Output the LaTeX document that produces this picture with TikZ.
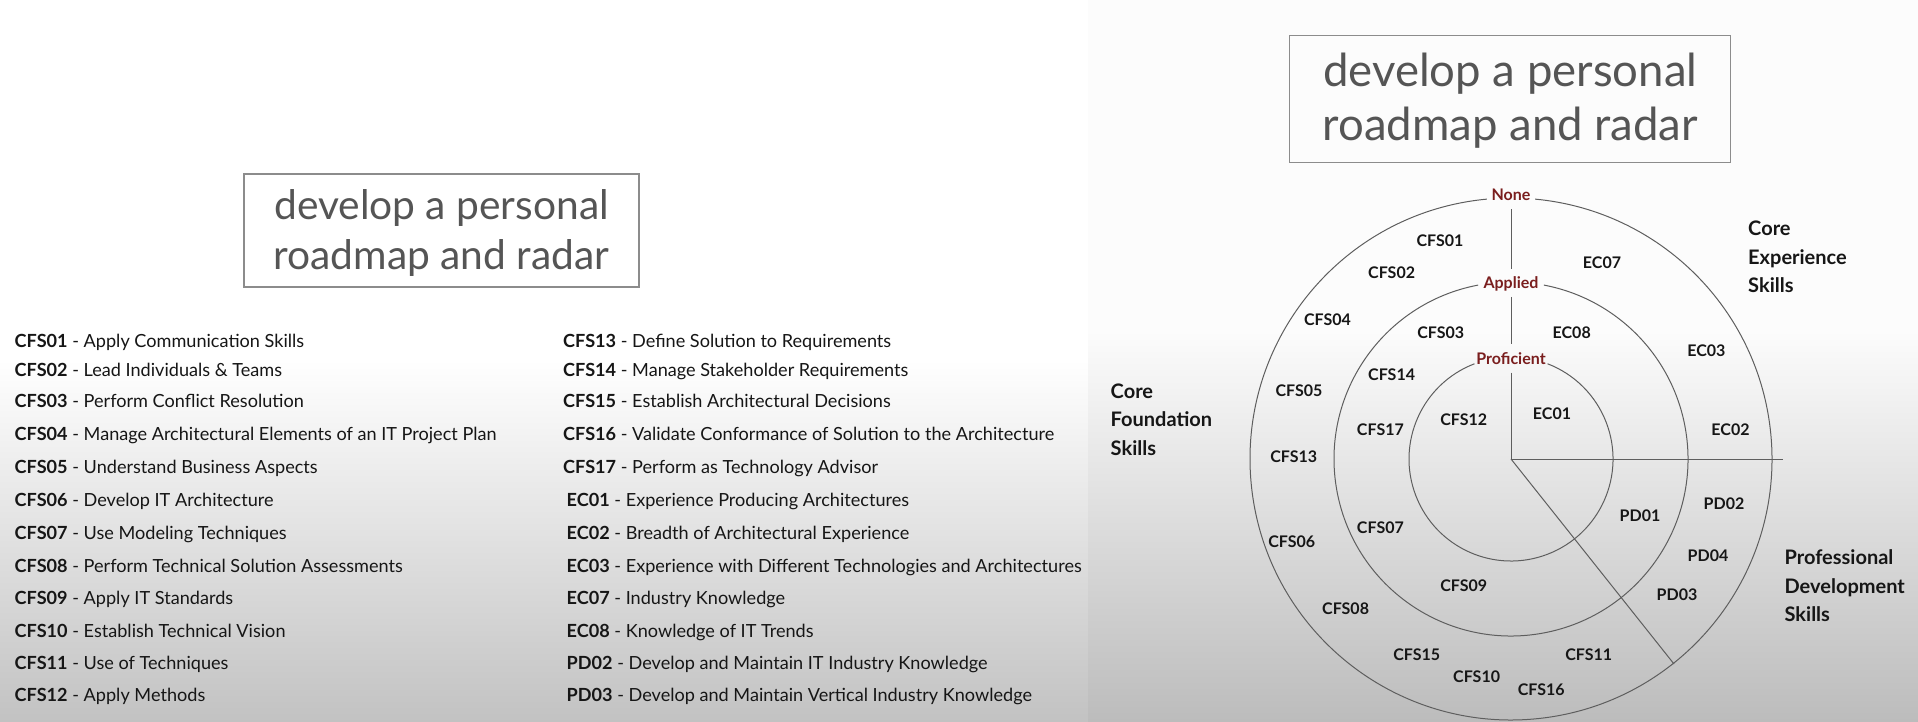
\documentclass[tikz,border=0pt]{standalone}
\usepackage{fontspec}
\setmainfont{Lato}
\usetikzlibrary{calc}

\definecolor{ink}{HTML}{161616}
\definecolor{titleink}{HTML}{555555}
\definecolor{boxline}{HTML}{8C8C8C}
\definecolor{ringline}{HTML}{5E5E5E}
\definecolor{levelred}{HTML}{7A1E1E}
\definecolor{leftbot}{HTML}{C2C2C2}
\definecolor{righttop}{HTML}{FCFCFC}
\definecolor{rightbot}{HTML}{BCBCBC}

\tikzset{
  titlebox/.style={draw=boxline, line width=1.3pt, inner sep=0pt},
  titleline/.style={anchor=base, text=titleink, inner sep=0pt},
  listitem/.style={anchor=base west, text=ink, inner sep=0pt,
    font=\fontsize{18.1}{20}\selectfont},
  skill/.style={text=ink, inner sep=0pt, font=\fontsize{16}{18}\selectfont\bfseries},
  level/.style={text=levelred, inner sep=0pt, minimum height=28pt,
    text height=11.5pt, text depth=0pt, font=\fontsize{16}{18}\selectfont\bfseries},
  category/.style={anchor=base west, text=ink, inner sep=0pt,
    font=\fontsize{20}{22}\selectfont\bfseries},
  ring/.style={draw=ringline, line width=1pt},
  spoke/.style={draw=ringline, line width=1pt}
}

\begin{document}
\begin{tikzpicture}[x=1pt, y=-1pt]
\useasboundingbox (0,0) rectangle (1918,722);

% backgrounds of the two slides
\fill[white] (0,0) rectangle (1088,360);
\shade[top color=white, bottom color=leftbot] (0,360) rectangle (1088,722);
\fill[righttop] (1088,0) rectangle (1918,330);
\shade[top color=righttop, bottom color=rightbot] (1088,330) rectangle (1918,722);

% ---------- left slide: title ----------
\node[titlebox, minimum width=395pt, minimum height=113pt] (ltbox) at (441.5,230.5) {};
\node[titleline, font=\fontsize{40.7}{44}\selectfont] (lt1) at (441.5,219.5) {develop a personal};
\node[titleline, font=\fontsize{40.7}{44}\selectfont] (lt2) at (441.5,269.5) {roadmap and radar};

% ---------- left slide: skill list ----------
\foreach \y/\c/\d [count=\i] in {
  347.6/CFS01/Apply Communication Skills,
  376.9/CFS02/Lead Individuals \& Teams,
  407.5/CFS03/Perform Conflict Resolution,
  440.5/CFS04/Manage Architectural Elements of an IT Project Plan,
  473.6/CFS05/Understand Business Aspects,
  506.6/CFS06/Develop IT Architecture,
  539.6/CFS07/Use Modeling Techniques,
  572.6/CFS08/Perform Technical Solution Assessments,
  604.4/CFS09/Apply IT Standards,
  637.5/CFS10/Establish Technical Vision,
  669.3/CFS11/Use of Techniques,
  701.1/CFS12/Apply Methods}
  \node[listitem] (la\i) at (14.5,\y) {\textbf{\c} - \d};

\foreach \y/\x/\c/\d [count=\i] in {
  347.6/563/CFS13/Define Solution to Requirements,
  376.9/563/CFS14/Manage Stakeholder Requirements,
  407.5/563/CFS15/Establish Architectural Decisions,
  440.5/563/CFS16/Validate Conformance of Solution to the Architecture,
  473.6/563/CFS17/Perform as Technology Advisor,
  506.6/566.5/EC01/Experience Producing Architectures,
  539.6/566.5/EC02/Breadth of Architectural Experience,
  572.6/566.5/EC03/Experience with Different Technologies and Architectures,
  604.4/566.5/EC07/Industry Knowledge,
  637.5/566.5/EC08/Knowledge of IT Trends,
  669.3/566.5/PD02/Develop and Maintain IT Industry Knowledge,
  701.1/566.5/PD03/Develop and Maintain Vertical Industry Knowledge}
  \node[listitem] (lb\i) at (\x,\y) {\textbf{\c} - \d};

% ---------- right slide: title ----------
\node[titlebox, minimum width=441pt, minimum height=127pt] (rtbox) at (1510.3,99.3) {};
\node[titleline, font=\fontsize{45.5}{50}\selectfont] (rt1) at (1510.3,87) {develop a personal};
\node[titleline, font=\fontsize{45.5}{50}\selectfont] (rt2) at (1510.3,141) {roadmap and radar};

% ---------- right slide: radar ----------
\coordinate (c) at (1511,459);
\coordinate (hend) at (1783,459);
\coordinate (dend) at (1674,664);

% rings, each left open where its level name sits
\draw[ring] (c) ++(-95.3:261) arc[start angle=-95.3, end angle=-444.7, radius=261];
\draw[ring] (c) ++(-100.7:177) arc[start angle=-100.7, end angle=-439.3, radius=177];
\draw[ring] (c) ++(-111:102) arc[start angle=-111, end angle=-429, radius=102];

\node[level] (none) at (1511,195) {None};
\node[level] (applied) at (1511,282.7) {Applied};
\node[level] (prof) at (1511,358.5) {Proficient};

% sector dividers
\draw[spoke] (none) -- (applied);
\draw[spoke] (applied) -- (prof);
\draw[spoke] (prof) -- (c);
\draw[spoke] (c) -- (hend);
\draw[spoke] (c) -- (dend);

% skills placed on the radar
\foreach \x/\y/\t in {
  1440/241/CFS01, 1602/263/EC07, 1391.6/272.3/CFS02, 1327.5/320/CFS04,
  1440.7/332.7/CFS03, 1571.7/332.7/EC08, 1706.4/350.7/EC03,
  1391.6/375/CFS14, 1299/391/CFS05, 1463.7/419.3/CFS12, 1552/413.3/EC01,
  1380.4/430/CFS17, 1730.5/430/EC02, 1293.8/456.7/CFS13,
  1724/503.3/PD02, 1640/516/PD01, 1380.4/527.3/CFS07, 1291.7/541.7/CFS06,
  1708/555.7/PD04, 1463.7/585.7/CFS09, 1677/595/PD03, 1345.6/608.3/CFS08,
  1416.7/655/CFS15, 1588.8/655/CFS11, 1476.6/676.7/CFS10, 1541.2/690/CFS16}
  \node[skill] (s\t) at (\x,\y) {\t};

% sector names
\node[category] (ce1) at (1748,235.5) {Core};
\node[category] (ce2) at (1748,264) {Experience};
\node[category] (ce3) at (1748,292.5) {Skills};
\node[category] (cf1) at (1110.5,398) {Core};
\node[category] (cf2) at (1110.5,426.5) {Foundation};
\node[category] (cf3) at (1110.5,455) {Skills};
\node[category] (pd1) at (1784.4,564) {Professional};
\node[category] (pd2) at (1784.4,593) {Development};
\node[category] (pd3) at (1784.4,621) {Skills};
\end{tikzpicture}
\end{document}
